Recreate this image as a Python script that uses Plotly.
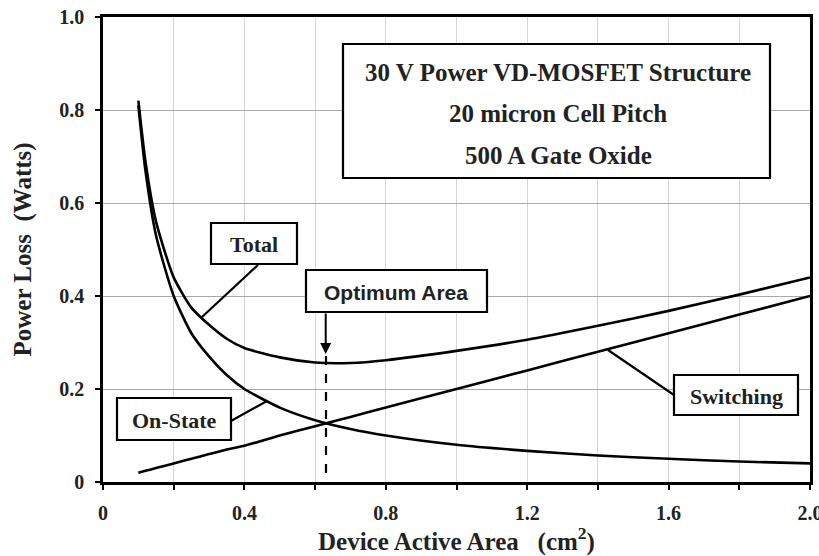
import plotly.graph_objects as go

# ---- data ----
area = [0.10, 0.12, 0.15, 0.20, 0.25, 0.30, 0.35, 0.40, 0.50, 0.60, 0.70, 0.80,
        1.00, 1.20, 1.40, 1.60, 1.80, 2.00]
on_state = [0.81, 0.67, 0.53, 0.40, 0.32, 0.27, 0.23, 0.20, 0.16, 0.133, 0.114, 0.100,
            0.080, 0.067, 0.057, 0.050, 0.044, 0.040]
switching = [0.020, 0.024, 0.030, 0.040, 0.050, 0.060, 0.070, 0.078, 0.100, 0.120, 0.140, 0.160,
             0.200, 0.240, 0.280, 0.320, 0.360, 0.400]
total = [0.82, 0.69, 0.56, 0.44, 0.375, 0.338, 0.308, 0.288, 0.268, 0.257, 0.256, 0.262,
         0.282, 0.306, 0.336, 0.368, 0.403, 0.440]
optimum_area = 0.63

x_ticks = [0, 0.4, 0.8, 1.2, 1.6, 2.0]
x_ticktext = ["0", "0.4", "0.8", "1.2", "1.6", "2.0"]
x_minor = [0.2, 0.6, 1.0, 1.4, 1.8]
y_ticks = [0, 0.2, 0.4, 0.6, 0.8, 1.0]
y_ticktext = ["0", "0.2", "0.4", "0.6", "0.8", "1.0"]

SERIF = "Liberation Serif, Times New Roman, serif"
SANS = "Liberation Sans, Arial, sans-serif"

fig = go.Figure()
for name, ys in [("On-State", on_state), ("Switching", switching), ("Total", total)]:
    fig.add_trace(go.Scatter(x=area, y=ys, mode="lines", name=name,
                             line=dict(color="black", width=2.6, shape="spline", smoothing=0.6),
                             hoverinfo="x+y+name"))

# px -> data helpers for annotation placement
def dx(px):
    return (px - 103) / 353.5

def dy(py):
    return (482 - py) / 465.0

shapes = []
annotations = []

def box(x0, x1, y0, y1):
    shapes.append(dict(type="rect", xref="x", yref="y", x0=dx(x0), x1=dx(x1), y0=dy(y1), y1=dy(y0),
                       line=dict(color="black", width=2.2), fillcolor="white", layer="above"))

def seg(x0, y0, x1, y1, dash="solid"):
    shapes.append(dict(type="line", xref="x", yref="y", x0=dx(x0), y0=dy(y0), x1=dx(x1), y1=dy(y1),
                       line=dict(color="black", width=2.2, dash=dash), layer="above"))

def label(px, py, text, family=SERIF, size=22):
    annotations.append(dict(x=dx(px), y=dy(py), xref="x", yref="y", text="<b>" + text + "</b>",
                            showarrow=False,
                            font=dict(family=family, size=size, color="#222"),
                            xanchor="center", yanchor="middle"))

# info box
box(343, 770, 44, 178)
label(558, 72, "30 V Power VD-MOSFET Structure", size=25)
label(558, 113, "20 micron Cell Pitch", size=25)
label(558, 155, "500 A Gate Oxide", size=25)

# Total
box(211, 297, 223, 264)
label(254, 244, "Total")
seg(258, 265, 202, 317)

# On-State
box(117, 231, 398, 440)
label(174, 420, "On-State")
seg(231, 421, 267, 401)

# Switching
box(674, 798, 375, 415)
label(736, 396, "Switching")
seg(674, 395, 608, 350)

# Optimum area
seg(326, 356, 326, 482, dash="dash")
box(306, 487, 270, 312)
label(396, 292, "Optimum Area", family=SANS, size=21)
annotations.append(dict(x=optimum_area, y=dy(354), ax=optimum_area, ay=dy(312), xref="x", yref="y",
                        axref="x", ayref="y", text="", showarrow=True, arrowhead=2, arrowsize=1.1,
                        arrowwidth=2, arrowcolor="black"))

# axis titles
annotations.append(dict(x=0.5, y=0, xref="paper", yref="paper", yshift=-57, showarrow=False,
                        text="<b>Device Active Area   (cm<sup>2</sup>)</b>",
                        font=dict(family=SERIF, size=25, color="#222"),
                        xanchor="center", yanchor="middle"))
annotations.append(dict(x=0, y=0.5, xref="paper", yref="paper", xshift=-81, showarrow=False,
                        text="<b>Power Loss  (Watts)</b>", textangle=-90,
                        font=dict(family=SERIF, size=25, color="#222"),
                        xanchor="center", yanchor="middle"))

tickfont = dict(family=SERIF, size=20, color="#222", weight="bold")

fig.update_layout(
    width=819, height=556,
    margin=dict(l=103, r=9, t=17, b=74, autoexpand=False),
    paper_bgcolor="white", plot_bgcolor="white",
    showlegend=False,
    shapes=shapes, annotations=annotations,
    xaxis=dict(range=[0, 2.0], tickmode="array", tickvals=x_ticks, ticktext=x_ticktext,
               automargin=False,
               ticks="outside", ticklen=5, tickwidth=1.5, tickcolor="black",
               ticklabelstandoff=6, tickfont=tickfont, ticklabeloverflow="allow",
               showgrid=True, gridcolor="#d4d4d4", gridwidth=1,
               minor=dict(tickmode="array", tickvals=x_minor, ticks="outside", ticklen=5,
                          tickwidth=1.5, tickcolor="black", showgrid=True, gridcolor="#d4d4d4"),
               showline=True, linecolor="black", linewidth=2.6, mirror=True, zeroline=False),
    yaxis=dict(range=[0, 1.0], tickmode="array", tickvals=y_ticks, ticktext=y_ticktext,
               automargin=False,
               ticks="outside", ticklen=5, tickwidth=1.5, tickcolor="black",
               ticklabelstandoff=7, tickfont=tickfont,
               showgrid=True, gridcolor="#a8a8a8", gridwidth=1,
               showline=True, linecolor="black", linewidth=2.6, mirror=True, zeroline=False),
)

fig.write_html("out.html")
